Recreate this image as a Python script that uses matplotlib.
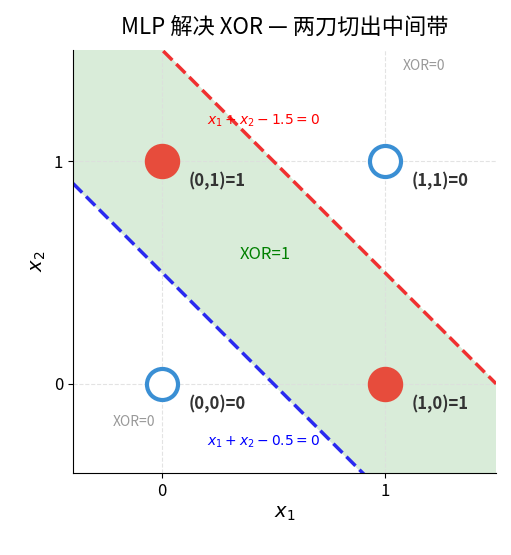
import numpy as np
import matplotlib
matplotlib.use("Agg")
import matplotlib.pyplot as plt

plt.rcParams['font.family'] = ['Noto Sans CJK SC', 'DejaVu Sans']

# XOR data
pts_x = [0, 0, 1, 1]
pts_y = [0, 1, 0, 1]
xor_val = [0, 1, 1, 0]
labels = ["(0,0)=0", "(0,1)=1", "(1,0)=1", "(1,1)=0"]
# decision lines x1 + x2 = c
c_low, c_high = 0.5, 1.5

fig, ax = plt.subplots(figsize=(5.11, 5.55), dpi=100)
fig.subplots_adjust(left=0.143, right=0.971, top=0.91, bottom=0.148)

xs = np.linspace(-0.4, 1.5, 200)
ax.fill_between(xs, c_low - xs, c_high - xs, color="#d9ecd9", zorder=0)
ax.plot(xs, c_high - xs, "--", color="#f03030", lw=2.5, zorder=2)
ax.plot(xs, c_low - xs, "--", color="#2a2af0", lw=2.5, zorder=2)

for x, y, v, lab in zip(pts_x, pts_y, xor_val, labels):
    if v == 1:
        ax.scatter(x, y, s=600, color="#e74c3c", zorder=3)
    else:
        ax.scatter(x, y, s=500, facecolor="white", edgecolor="#3a8fd4", lw=3, zorder=3)
    ax.text(x + 0.12, y - 0.09, lab, fontsize=12, weight="bold", color="#333333",
            ha="left", va="center", zorder=4)

ax.text(0.2, 1.18, r"$x_1 + x_2 - 1.5 = 0$", color="red", fontsize=10, ha="left", va="center")
ax.text(0.2, -0.26, r"$x_1 + x_2 - 0.5 = 0$", color="blue", fontsize=10, ha="left", va="center")
ax.text(0.35, 0.58, "XOR=1", color="green", fontsize=12, ha="left", va="center")
ax.text(1.08, 1.43, "XOR=0", color="#999999", fontsize=10, ha="left", va="center")
ax.text(-0.22, -0.17, "XOR=0", color="#999999", fontsize=10, ha="left", va="center")

ax.set_xlim(-0.4, 1.5)
ax.set_ylim(-0.4, 1.5)
ax.set_xticks([0, 1])
ax.set_yticks([0, 1])
ax.tick_params(labelsize=12)
ax.grid(True, linestyle="--", color="#dddddd", alpha=0.8)
for s in ["top", "right"]:
    ax.spines[s].set_visible(False)
ax.set_xlabel(r"$x_1$", fontsize=14, labelpad=2)
ax.set_ylabel(r"$x_2$", fontsize=14)
ax.set_title("MLP 解决 XOR — 两刀切出中间带", fontsize=16, pad=12)

fig.text(0.97, 0.04, "掘金技术社区 @ 端平入洛", ha="right", va="center",
         fontsize=11, color="white", weight="bold", alpha=0.9)

fig.savefig("out.png", dpi=100)
